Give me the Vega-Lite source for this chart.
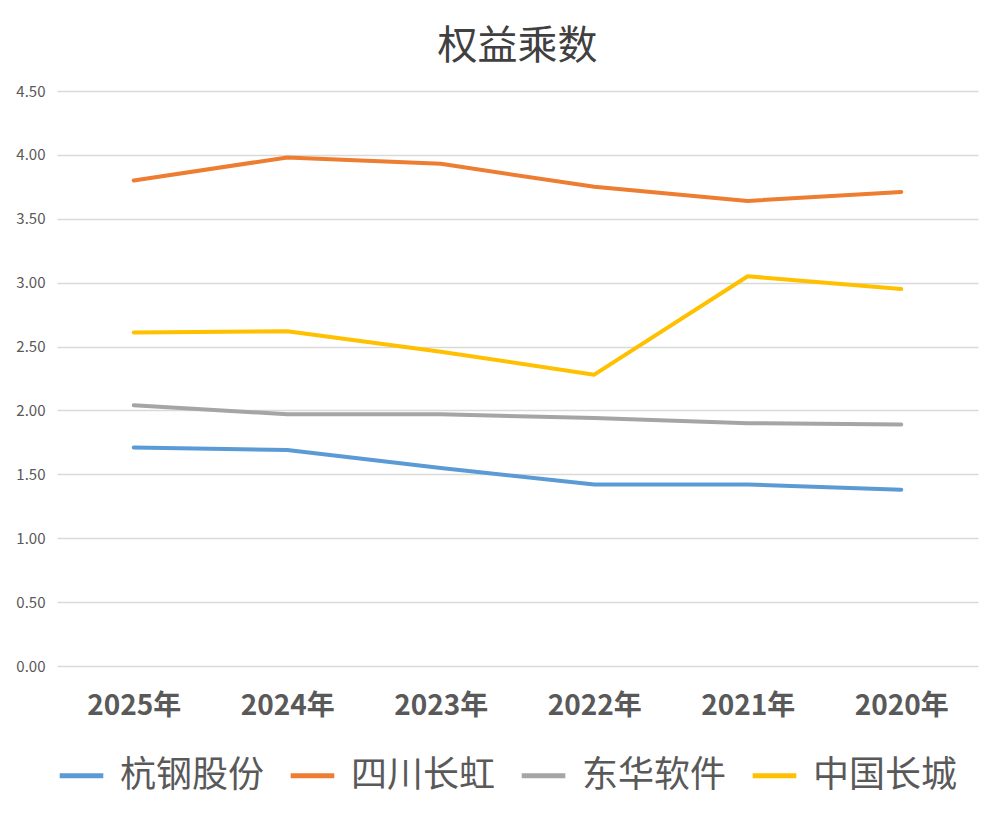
{
  "$schema": "https://vega.github.io/schema/vega-lite/v6.json",
  "width": 921,
  "height": 575,
  "autosize": {"type": "none"},
  "padding": {"left": 57, "top": 91, "right": 16, "bottom": 151},
  "background": "white",
  "title": {
    "text": "权益乘数",
    "fontSize": 40,
    "font": "Noto Sans CJK SC",
    "fontWeight": "normal",
    "color": "#404040",
    "anchor": "middle",
    "offset": 17
  },
  "data": {
    "values": [
      {"year": "2025年", "company": "杭钢股份", "value": 1.71},
      {"year": "2024年", "company": "杭钢股份", "value": 1.69},
      {"year": "2023年", "company": "杭钢股份", "value": 1.55},
      {"year": "2022年", "company": "杭钢股份", "value": 1.42},
      {"year": "2021年", "company": "杭钢股份", "value": 1.42},
      {"year": "2020年", "company": "杭钢股份", "value": 1.38},
      {"year": "2025年", "company": "四川长虹", "value": 3.80},
      {"year": "2024年", "company": "四川长虹", "value": 3.98},
      {"year": "2023年", "company": "四川长虹", "value": 3.93},
      {"year": "2022年", "company": "四川长虹", "value": 3.75},
      {"year": "2021年", "company": "四川长虹", "value": 3.64},
      {"year": "2020年", "company": "四川长虹", "value": 3.71},
      {"year": "2025年", "company": "东华软件", "value": 2.04},
      {"year": "2024年", "company": "东华软件", "value": 1.97},
      {"year": "2023年", "company": "东华软件", "value": 1.97},
      {"year": "2022年", "company": "东华软件", "value": 1.94},
      {"year": "2021年", "company": "东华软件", "value": 1.90},
      {"year": "2020年", "company": "东华软件", "value": 1.89},
      {"year": "2025年", "company": "中国长城", "value": 2.61},
      {"year": "2024年", "company": "中国长城", "value": 2.62},
      {"year": "2023年", "company": "中国长城", "value": 2.46},
      {"year": "2022年", "company": "中国长城", "value": 2.28},
      {"year": "2021年", "company": "中国长城", "value": 3.05},
      {"year": "2020年", "company": "中国长城", "value": 2.95}
    ]
  },
  "mark": {"type": "line", "strokeWidth": 4, "strokeCap": "round", "strokeJoin": "round"},
  "encoding": {
    "x": {
      "field": "year",
      "type": "ordinal",
      "sort": ["2025年", "2024年", "2023年", "2022年", "2021年", "2020年"],
      "scale": {"type": "point", "padding": 0.5},
      "axis": {
        "title": null,
        "labelAngle": 0,
        "labelFont": "Noto Sans CJK SC",
        "labelFontSize": 28,
        "labelFontWeight": "bold",
        "labelColor": "#595959",
        "labelPadding": 26,
        "ticks": false,
        "domain": false,
        "grid": false
      }
    },
    "y": {
      "field": "value",
      "type": "quantitative",
      "scale": {"domain": [0, 4.5], "nice": false},
      "axis": {
        "title": null,
        "values": [0, 0.5, 1, 1.5, 2, 2.5, 3, 3.5, 4, 4.5],
        "format": ".2f",
        "labelFont": "Noto Sans CJK SC",
        "labelFontSize": 15,
        "labelColor": "#595959",
        "labelPadding": 12,
        "ticks": false,
        "domain": false,
        "grid": true,
        "gridColor": "#D9D9D9",
        "gridWidth": 1.3
      }
    },
    "color": {
      "field": "company",
      "type": "nominal",
      "sort": ["杭钢股份", "四川长虹", "东华软件", "中国长城"],
      "scale": {
        "domain": ["杭钢股份", "四川长虹", "东华软件", "中国长城"],
        "range": ["#5B9BD5", "#ED7D31", "#A5A5A5", "#FFC000"]
      },
      "legend": {
        "title": null,
        "orient": "bottom",
        "direction": "horizontal",
        "offset": 31,
        "symbolType": "stroke",
        "symbolSize": 1900,
        "symbolStrokeWidth": 5,
        "labelFont": "Noto Sans CJK SC",
        "labelFontSize": 36,
        "labelColor": "#595959",
        "labelOffset": 14,
        "columnPadding": 15,
        "labelLimit": 300
      }
    }
  },
  "config": {
    "view": {"stroke": null}
  }
}
